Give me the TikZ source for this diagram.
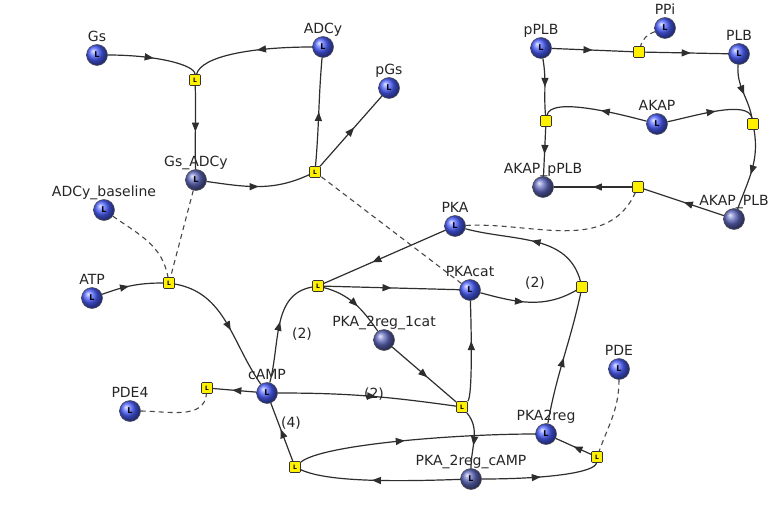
\documentclass[tikz,border=0pt]{standalone}
\usepackage{fontspec}
\setmainfont{DejaVu Sans}
\usetikzlibrary{arrows.meta,decorations.markings}
\definecolor{spblue}{RGB}{75,95,255}
\definecolor{spdark}{RGB}{95,105,190}
\definecolor{rxyellow}{RGB}{255,240,0}
\tikzset{
  lbl/.style={anchor=base, inner sep=0pt, label distance=3pt, font=\fontsize{14}{16}\selectfont, text=black!85},
  species/.style={circle, minimum size=21pt, inner sep=0pt, ball color=spblue, draw=black!70, line width=0.5pt,
    font=\fontsize{8}{8}\selectfont\bfseries, label={[lbl]90:#1}},
  complex/.style={species=#1, ball color=spdark},
  rx/.style={rectangle, rounded corners=1pt, minimum size=11pt, inner sep=0pt, fill=rxyellow, draw=black!80,
    line width=0.6pt, font=\fontsize{6}{6}\selectfont\bfseries},
  flow/.style={draw, line width=1.2pt, black!82},
  mod/.style={draw, line width=1.1pt, black!72, dash pattern=on 5pt off 4pt},
  tip/.style={postaction={decorate, decoration={markings,
    mark=at position #1 with {\arrow{Triangle[length=9pt,width=7pt]}}}}},
  stoich/.style={font=\fontsize{14}{16}\selectfont, text=black!85, inner sep=0pt}
}
\begin{document}
\begin{tikzpicture}[x=1pt,y=1pt]
\useasboundingbox (0,0) rectangle (776,-505);
\fill[white] (0,0) rectangle (776,-505);

% species
\node[species=Gs] (Gs) at (97,-55) {L};
\node[species=ADCy] (ADCy) at (323,-47) {L};
\node[species=pGs] (pGs) at (389,-88) {L};
\node[complex=Gs\_ADCy] (GsADCy) at (196,-180) {L};
\node[species=ADCy\_baseline] (ADCyb) at (104,-210) {L};
\node[species=ATP] (ATP) at (92,-298) {L};
\node[species=cAMP] (cAMP) at (267,-393) {L};
\node[species=PDE4] (PDEfour) at (130,-411) {L};
\node[species=PKA] (PKA) at (455,-226) {L};
\node[species=PKAcat] (PKAcat) at (470,-290) {L};
\node[complex=PKA\_2reg\_1cat] (PKAonecat) at (384,-340) {};
\node[species=PKA2reg] (PKAtworeg) at (546,-434) {L};
\node[species=PDE] (PDE) at (619,-369) {L};
\node[complex=PKA\_2reg\_cAMP] (PKAcamp) at (471,-479) {L};
\node[species=pPLB] (pPLB) at (541,-48) {L};
\node[species=PPi] (PPi) at (665,-28) {L};
\node[species=PLB] (PLB) at (739,-54) {L};
\node[species=AKAP] (AKAP) at (657,-124) {L};
\node[complex=AKAP\_pPLB] (AKAPpPLB) at (543,-187) {};
\node[complex=AKAP\_PLB] (AKAPPLB) at (734,-219) {};

% reactions
\node[rx] (ra) at (195,-80) {L};
\node[rx] (rb) at (315,-172) {L};
\node[rx] (rc) at (169,-283) {L};
\node[rx] (rdeg) at (207,-388) {L};
\node[rx] (rpka) at (318,-286) {L};
\node[rx] (rright) at (582,-287) {};
\node[rx] (rmid) at (462,-407) {L};
\node[rx] (rpde) at (597,-457) {L};
\node[rx] (rfour) at (295,-467) {L};
\node[rx] (rplb) at (639,-52) {};
\node[rx] (rleft) at (546,-121) {};
\node[rx] (rrplb) at (753,-124) {};
\node[rx] (rbot) at (638,-187) {};

% Gs / ADCy cycle
\path[flow, tip=0.5] (Gs) .. controls +(0:60) and +(90:15) .. (ra);
\path[flow, tip=0.45] (ADCy) .. controls +(180:70) and +(75:25) .. (ra);
\path[flow, tip=0.55] (ra) to[out=-88, in=92] (GsADCy);
\path[flow, tip=0.5] (GsADCy) to[out=-8, in=205] (rb);
\path[flow, tip=0.5] (rb) to[out=85, in=-95] (ADCy);
\path[flow, tip=0.55] (rb) -- (pGs);
\path[mod] (PKAcat) -- (rb);

% cAMP synthesis and degradation
\path[mod] (GsADCy) -- (rc);
\path[mod] (ADCyb) to[out=-35, in=100] (rc);
\path[flow, tip=0.45] (ATP) to[out=20, in=180] (rc);
\path[flow, tip=0.55] (rc) to[out=-10, in=125] (cAMP);
\path[flow, tip=0.55] (cAMP) -- (rdeg);
\path[mod] (PDEfour) to[out=0, in=-95] (rdeg);

% PKA activation
\path[flow, tip=0.55] (cAMP) to[out=75, in=190] (rpka);
\node[stoich] (sa) at (302,-334) {(2)};
\path[flow, tip=0.6] (PKA) -- (rpka);
\path[flow, tip=0.5] (rpka) -- (PKAcat);
\path[flow, tip=0.55] (rpka) to[out=-15, in=125] (PKAonecat);
\path[flow, tip=0.45] (PKAcat) to[out=-15, in=210] (rright);
\node[stoich] (sb) at (535,-283) {(2)};
\path[flow, tip=0.5] (rright) to[out=105, in=-15] (PKA);
\path[flow, tip=0.5] (PKAtworeg) to[out=80, in=-102] (rright);
\path[flow, tip=0.55] (cAMP) to[out=0, in=172] (rmid);
\node[stoich] (sc) at (374,-394) {(2)};
\path[flow, tip=0.55] (PKAonecat) -- (rmid);
\path[flow, tip=0.6] (rmid) .. controls +(45:15) and +(-88:40) .. (PKAcat);
\path[flow, tip=0.6] (rmid) to[out=-50, in=90] (PKAcamp);
\path[flow, tip=0.55] (rfour) -- (cAMP);
\node[stoich] (sd) at (291,-423) {(4)};
\path[flow, tip=0.45] (rfour) .. controls +(40:35) and +(180:90) .. (PKAtworeg);
\path[flow, tip=0.55] (PKAcamp) .. controls +(182:80) and +(-25:35) .. (rfour);
\path[flow, tip=0.5] (PKAcamp) .. controls +(0:80) and +(-95:15) .. (rpde);
\path[flow, tip=0.5] (rpde) -- (PKAtworeg);
\path[mod] (PDE) to[out=-90, in=70] (rpde);

% PLB phosphorylation and AKAP binding
\path[flow, tip=0.5] (pPLB) -- (rplb);
\path[flow, tip=0.55] (rplb) -- (PLB);
\path[mod] (PPi) to[out=200, in=75] (rplb);
\path[flow, tip=0.5] (pPLB) to[out=-80, in=95] (rleft);
\path[flow, tip=0.45] (AKAP) .. controls +(165:40) and +(80:25) .. (rleft);
\path[flow, tip=0.55] (rleft) -- (AKAPpPLB);
\path[flow, tip=0.55] (PLB) to[out=-95, in=100] (rrplb);
\path[flow, tip=0.55] (AKAP) .. controls +(12:40) and +(100:25) .. (rrplb);
\path[flow, tip=0.55] (rrplb) to[out=-80, in=70] (AKAPPLB);
\path[flow, tip=0.5] (rbot) -- (AKAPpPLB);
\path[flow, tip=0.5] (AKAPPLB) -- (rbot);
\path[mod] (PKA) to[out=3, in=-115] (rbot);
\end{tikzpicture}
\end{document}
